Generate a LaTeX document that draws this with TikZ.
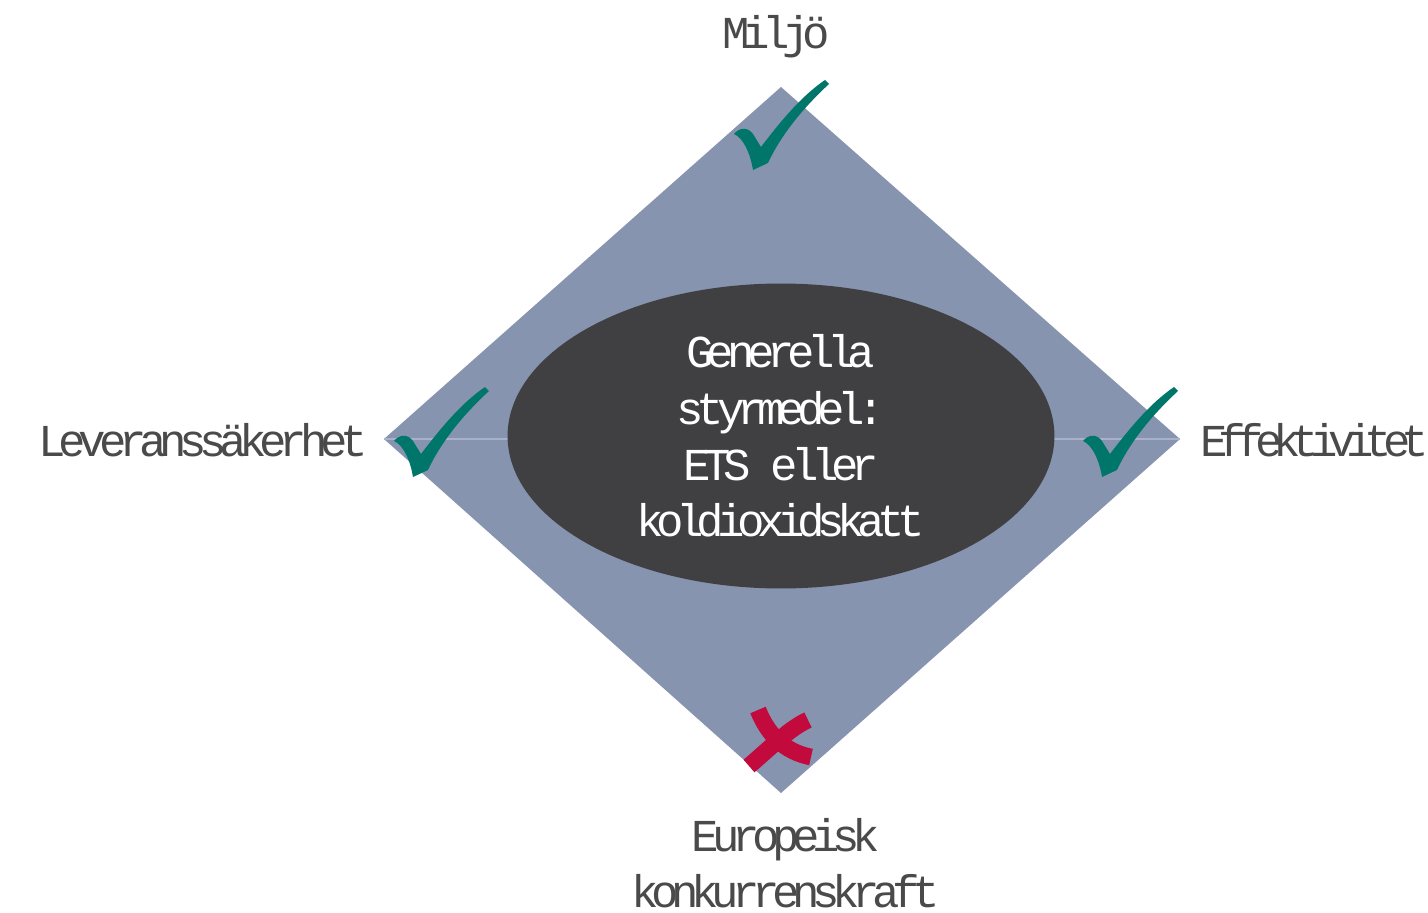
\documentclass[tikz,border=0pt]{standalone}
\usepackage{fontspec}
\newfontfamily\courfont[LetterSpace=-16]{Liberation Mono}
\newfontfamily\courtight[LetterSpace=-20]{Liberation Mono}
\usetikzlibrary{shapes.geometric}
\definecolor{ruta}{HTML}{8794AF}
\definecolor{linje}{HTML}{A9B1C9}
\definecolor{ellips}{HTML}{404042}
\definecolor{gron}{HTML}{00766B}
\definecolor{rod}{HTML}{C20A3C}
\definecolor{text}{HTML}{4A4A4A}
\tikzset{
  etikett/.style={text=text, inner sep=0pt, align=center},
  bock/.pic={
    \fill[gron] (-19,-36) .. controls (-14,-42) and (-6,-44) .. (0,-36)
      -- (8,-23) .. controls (30,-52) and (50,-75) .. (72,-90)
      -- (76,-86) .. controls (50,-62) and (28,-35) .. (15,-7)
      -- (0,0) .. controls (-3,-18) and (-10,-32) .. (-19,-36) -- cycle;
  }
}
\begin{document}
\begin{tikzpicture}[x=0.02cm, y=-0.02cm, line join=round,
    font=\courfont\fontsize{26}{32}\selectfont]
  \useasboundingbox (0,0) rectangle (1428,913);
  \path
    (781,87) coordinate (T)
    (1180,439) coordinate (R)
    (781,793) coordinate (B)
    (384,439) coordinate (L)
    ;
  %\draw[gray!50] (0,0) grid[step=100] (1428,913);
  \fill[ruta] (T)--(R)--(B)--(L)--cycle;
  \draw[linje, line width=0.6pt] (L)--(R);
  \node[ellipse, fill=ellips, text=white, align=center, inner sep=0pt,
    minimum width=10.94cm, minimum height=6.1cm] (styrmedel) at (781,436)
    {Generella\\styrmedel:\\ETS eller\\koldioxidskatt};
  \foreach \p in {(753,170),(413,477),(1102,477)}
    \pic at \p {bock};
  % kryss
  \draw[rod, line width=9.5pt] (758,710) .. controls (768,735) and (785,752) .. (811,757);
  \draw[rod, line width=9.5pt] (808,720) .. controls (790,728) and (770,748) .. (749,766);
  \node[etikett, anchor=base] (miljo) at (776,48) {Miljö};
  \node[etikett, anchor=base east] (leverans) at (368,456) {Leveranssäkerhet};
  \node[etikett, anchor=base west, font=\courtight\fontsize{26}{32}\selectfont]
    (effektiv) at (1200,456) {Effektivitet};
  \node[etikett] (europa) at (786,863) {Europeisk\\konkurrenskraft};
\end{tikzpicture}
\end{document}
